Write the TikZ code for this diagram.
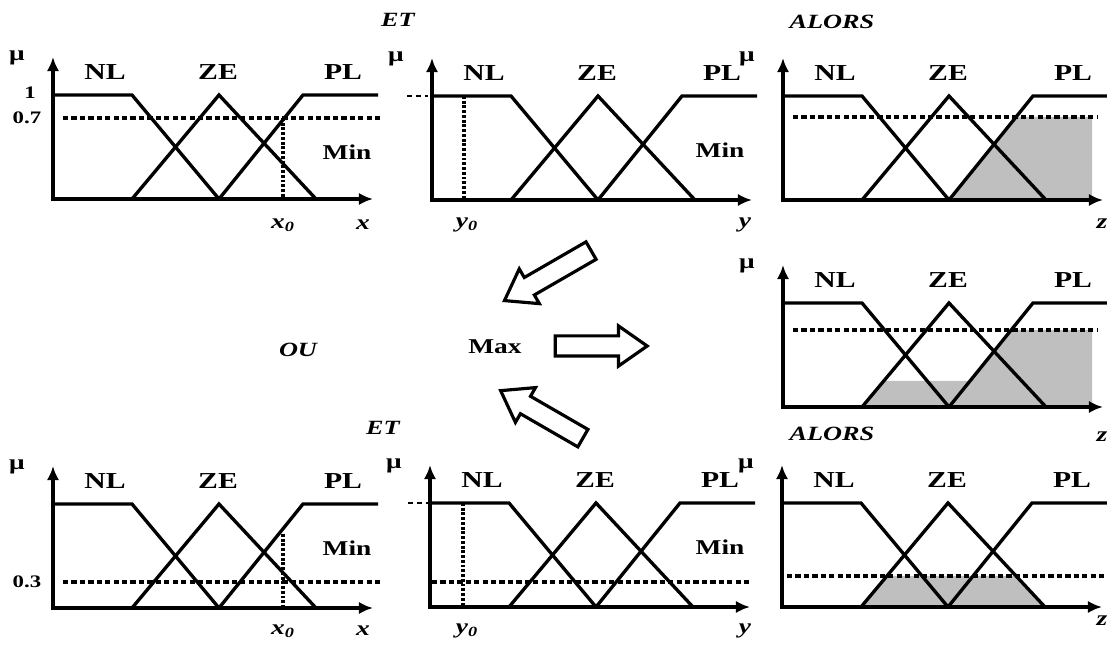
\documentclass[tikz,border=0pt]{standalone}
\usepackage{fontspec}
\setmainfont[FakeStretch=1.3]{Liberation Serif}
\usetikzlibrary{arrows.meta,shapes.arrows}

\tikzset{
  axis/.style={line width=1.9pt, {Latex[length=8pt,width=7pt]}-{Latex[length=8pt,width=7pt]}},
  mf/.style={line width=1.9pt},
  cut/.style={line width=1.8pt, dash pattern=on 3pt off 1.8pt},
  vcut/.style={line width=2.2pt, dash pattern=on 1.6pt off 1.1pt},
  area/.style={fill=black!25},
  setname/.style={font=\fontsize{13}{15}\selectfont\bfseries},
  tick/.style={font=\fontsize{10}{12}\selectfont\bfseries},
  mulbl/.style={font=\fontsize{12}{14}\selectfont\bfseries},
  oper/.style={font=\fontsize{12}{14}\selectfont\bfseries},
  conj/.style={font=\fontsize{11.5}{13}\selectfont\bfseries\itshape},
  var/.style={font=\fontsize{12}{14}\selectfont\bfseries\itshape},
  block/.style={single arrow, draw, line width=1.8pt, fill=white, inner xsep=0pt,
    inner ysep=0.17cm, minimum height=#1, single arrow head extend=0.2cm,
    single arrow tip angle=70}
}

\begin{document}
\begin{tikzpicture}[x=0.02cm, y=-0.02cm]
\useasboundingbox (0,0) rectangle (1107,645);

% clipped consequents
\fill[area] (949,200) -- (1016,117) -- (1092,117) -- (1092,200) -- cycle;
\fill[area] (862,407) -- (884,381) -- (970,381) -- (1011,330) -- (1092,330) -- (1092,407) -- cycle;
\fill[area] (861,607) -- (887,576) -- (1016,576) -- (1045,607) -- cycle;

% the seven panels
\foreach \ox/\by/\p in {53/199/a, 432/200/b, 783/200/c, 783/407/d, 53/608/e, 430/607/f, 782/607/g} {
  \draw[axis] (\ox,\by-142) -- (\ox,\by) -- (\ox+320,\by);
  \draw[mf] (\ox,\by-104) -- (\ox+79,\by-104) -- (\ox+166,\by);
  \draw[mf] (\ox+79,\by) -- (\ox+166,\by-104) -- (\ox+263,\by);
  \draw[mf] (\ox+166,\by) -- (\ox+250,\by-104) -- (\ox+325,\by-104);
  \node[mulbl] (mu\p) at (\ox-36,\by-141) {μ};
  \node[setname] (nl\p) at (\ox+52,\by-127) {NL};
  \node[setname] (ze\p) at (\ox+165,\by-127) {ZE};
  \node[setname] (pl\p) at (\ox+290,\by-127) {PL};
}

% rule 1
\draw[cut] (63,118) -- (380,118);
\draw[vcut] (283,118) -- (283,199);
\node[tick] (one) at (30,93) {1};
\node[tick] (lvla) at (27,118) {0.7};
\node[oper] (mina) at (347,152) {Min};
\node[var] (xa) at (283,225) {x\textsubscript{0}};
\node[var] (xaxa) at (363,225) {x};
\node[conj] (eta) at (398,20) {ET};
\draw[line width=0.7pt, dash pattern=on 3pt off 2pt] (407,96) -- (428,96);
\draw[vcut] (464,96) -- (464,200);
\node[oper] (minb) at (720,150) {Min};
\node[var] (yb) at (467,225) {y\textsubscript{0}};
\node[var] (yaxb) at (745,225) {y};
\node[conj] (alorsa) at (832,22) {ALORS};
\draw[cut] (793,117) -- (1097,117);
\node[var] (zaxc) at (1102,224) {z};

% aggregation
\draw[cut] (793,330) -- (1097,330);
\node[var] (zaxd) at (1102,437) {z};
\node[conj] (ou) at (298,350) {OU};
\node[oper] (max) at (495,347) {Max};
\node[block=2.0cm, rotate=210] (toMaxA) at (554,272) {};
\node[block=1.84cm] (fromMax) at (594,346) {};
\node[block=1.9cm, rotate=150] (toMaxB) at (548,418) {};

% rule 2
\draw[cut] (63,582) -- (380,582);
\draw[vcut] (283,534) -- (283,608);
\node[tick] (lvle) at (27,582) {0.3};
\node[oper] (mine) at (347,548) {Min};
\node[var] (xe) at (283,631) {x\textsubscript{0}};
\node[var] (xaxe) at (363,631) {x};
\node[conj] (etb) at (383,428) {ET};
\draw[line width=0.7pt, dash pattern=on 3pt off 2pt] (408,503) -- (428,503);
\draw[cut] (432,582) -- (750,582);
\draw[vcut] (463,503) -- (463,607);
\node[oper] (minf) at (720,547) {Min};
\node[var] (yf) at (467,631) {y\textsubscript{0}};
\node[var] (yaxf) at (745,631) {y};
\node[conj] (alorsb) at (832,434) {ALORS};
\draw[cut] (787,576) -- (1107,576);
\node[var] (zaxg) at (1102,621) {z};
\end{tikzpicture}
\end{document}
